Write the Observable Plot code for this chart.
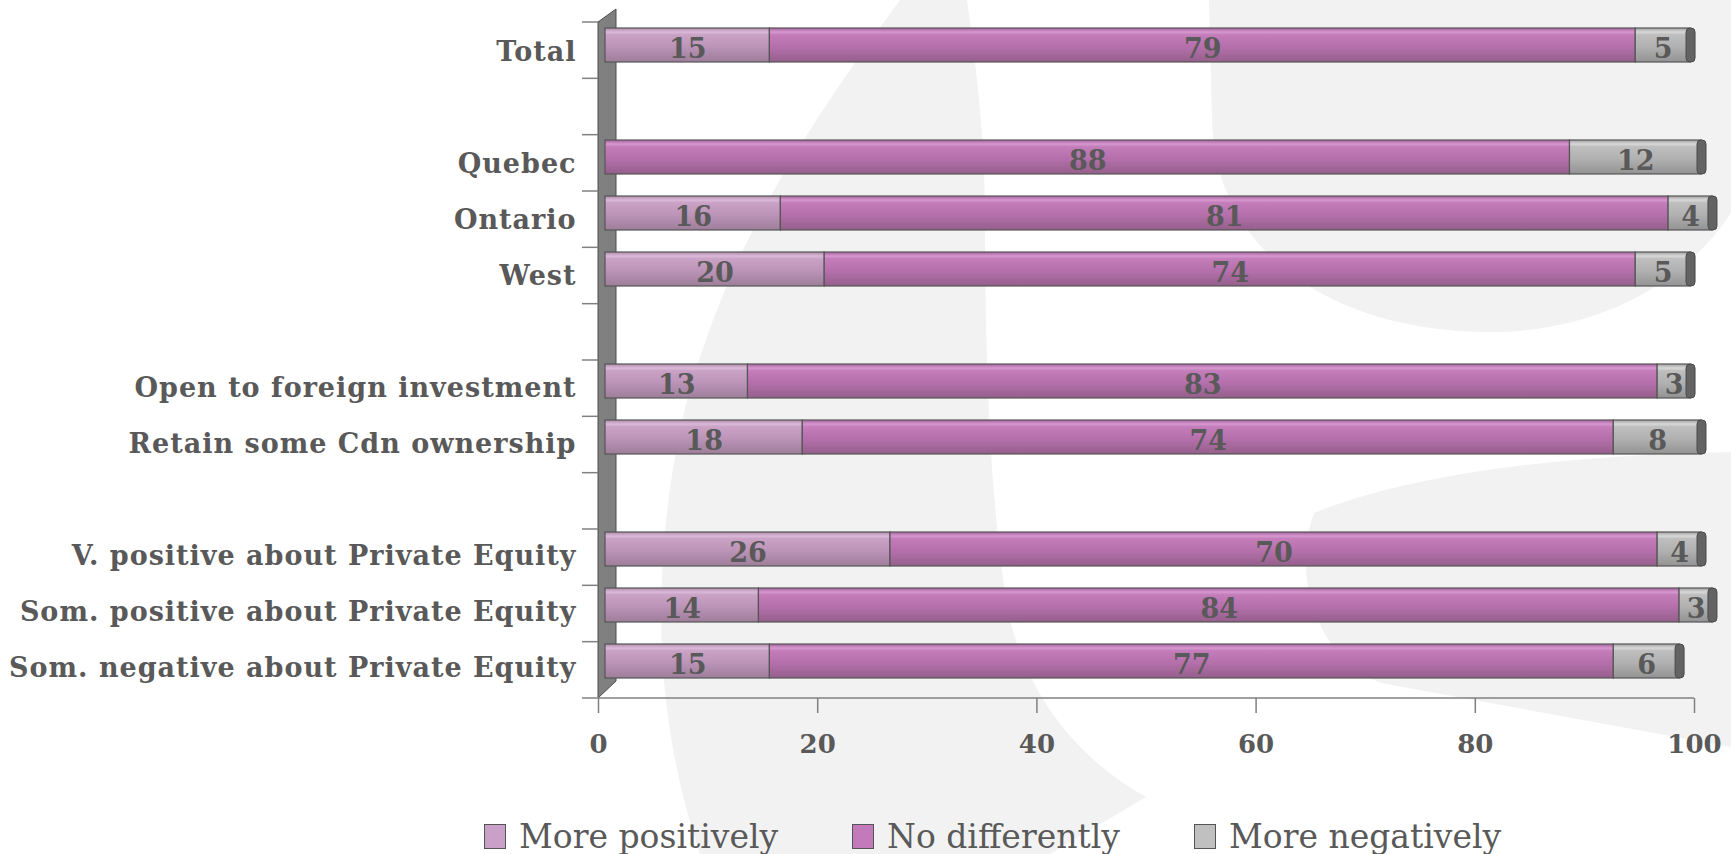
<!DOCTYPE html>
<html>
<head>
<meta charset="utf-8">
<script src="https://cdn.jsdelivr.net/npm/d3@7"></script>
<script src="https://cdn.jsdelivr.net/npm/@observablehq/plot@0.6"></script>
<style>
html, body { margin: 0; padding: 0; background: #ffffff; }
#wrap { position: relative; width: 1731px; height: 854px; overflow: hidden; }
#bg { position: absolute; left: 0; top: 0; }
#chart { position: absolute; left: 0; top: 0; }
#legend { position: absolute; left: 484px; top: 814px; height: 44px; display: flex; align-items: center;
  font-family: "DejaVu Serif", serif; font-size: 33px; color: #595959; }
.item { display: flex; align-items: center; }
.sw { width: 22px; height: 25px; border: 1px solid #555; box-sizing: border-box; margin-right: 13px; }
</style>
</head>
<body>
<div id="wrap">
  <svg id="bg" width="1731" height="854">
    <g fill="#f2f2f2">
      <path d="M 900 0 C 820 110, 720 250, 680 430 C 650 580, 655 720, 700 854 L 1050 854 L 1146 797 C 1080 760, 1030 700, 1010 620 C 990 520, 985 350, 985 220 C 985 130, 975 60, 967 0 Z"/>
      <path d="M 1209 0 L 1731 0 L 1731 213 C 1680 290, 1590 332, 1490 332 C 1330 332, 1215 250, 1212 120 Z"/>
      <path d="M 1314 513 C 1420 470, 1580 455, 1731 452 L 1731 747 L 1381 683 C 1320 660, 1290 580, 1314 513 Z"/>
    </g>
  </svg>
  <div id="chart"></div>
  <div id="legend"></div>
</div>
<script>
// ---- data ----
const rowOrder = ["Total", "", "Quebec", "Ontario", "West", "", "Open to foreign investment", "Retain some Cdn ownership", "", "V. positive about Private Equity", "Som. positive about Private Equity", "Som. negative about Private Equity"];
const categories = ["Total", "Quebec", "Ontario", "West", "Open to foreign investment", "Retain some Cdn ownership", "V. positive about Private Equity", "Som. positive about Private Equity", "Som. negative about Private Equity"];
const series = ["More positively", "No differently", "More negatively"];
const morePositively = [15, 0, 16, 20, 13, 18, 26, 14, 15];
const noDifferently = [79, 88, 81, 74, 83, 74, 70, 84, 77];
const moreNegatively = [5, 12, 4, 5, 3, 8, 4, 3, 6];
const xTicks = [0, 20, 40, 60, 80, 100];

// ---- styles ----
const gradStops = [
  [[0, "#b08aac"], [0.12, "#dbb9d8"], [0.2, "#c9a2c6"], [0.55, "#bb94b8"], [1, "#9d7e99"]],
  [[0, "#a9619f"], [0.12, "#d698cf"], [0.2, "#c37dba"], [0.55, "#b570ac"], [1, "#945f8a"]],
  [[0, "#a3a3a3"], [0.12, "#d8d8d8"], [0.2, "#bebebe"], [0.55, "#b1b1b1"], [1, "#939393"]]
];
const swatchColors = ["#c9a0c8", "#c27abb", "#c0c0c0"];
const gradIds = ["gPos", "gNd", "gNeg"];
const textColor = "#595959";

// ---- build table ----
let gapCount = 0;
const yDomain = rowOrder.map(r => r === "" ? " ".repeat(++gapCount) : r);
const valuesBySeries = [morePositively, noDifferently, moreNegatively];
const table = [];
categories.forEach((c, i) => {
  series.forEach((s, j) => table.push({category: c, series: s, value: valuesBySeries[j][i]}));
});
const totals = categories.map((c, i) => ({category: c, total: morePositively[i] + noDifferently[i] + moreNegatively[i]}));

const H = 800, MT = 22, MB = 102, ML = 598, MR = 37;

function defsMark() {
  const defs = d3.create("svg:defs");
  gradIds.forEach((id, k) => {
    const lg = defs.append("linearGradient").attr("id", id).attr("x1", 0).attr("y1", 0).attr("x2", 0).attr("y2", 1);
    gradStops[k].forEach(([o, c]) => lg.append("stop").attr("offset", o).attr("stop-color", c));
  });
  return defs.node();
}

function wallMark(index, scales, values, dims) {
  const g = d3.create("svg:g");
  const x0 = scales.x(0);
  const x100 = scales.x(100);
  const top = dims.marginTop, bottom = dims.height - dims.marginBottom;
  const step = (bottom - top) / yDomain.length;
  g.append("polygon")
    .attr("points", `${x0},${top} ${x0 + 18},${top - 13} ${x0 + 18},${bottom - 17} ${x0},${bottom}`)
    .attr("fill", "#808080").attr("stroke", "#4d4d4d").attr("stroke-width", 1);
  for (let k = 0; k < yDomain.length; k++) {
    const yy = top + k * step;
    g.append("line").attr("x1", x0 - 16).attr("x2", x0).attr("y1", yy).attr("y2", yy)
      .attr("stroke", "#808080").attr("stroke-width", 1.5);
  }
  g.append("line").attr("x1", x0 - 16).attr("x2", x100).attr("y1", bottom).attr("y2", bottom)
    .attr("stroke", "#808080").attr("stroke-width", 1.5);
  return g.node();
}

const plot = Plot.plot({
  width: 1731,
  height: H,
  marginTop: MT,
  marginBottom: MB,
  marginLeft: ML,
  marginRight: MR,
  x: {domain: [0, 100], axis: null, label: null},
  y: {domain: yDomain, paddingInner: 0.4, paddingOuter: 0.2, axis: null, label: null},
  color: {type: "ordinal", domain: series, range: gradIds.map(id => `url(#${id})`)},
  style: {fontFamily: "DejaVu Serif, serif", fontWeight: "bold", fontSize: "26px", color: textColor, background: "transparent", overflow: "visible"},
  marks: [
    defsMark,
    wallMark,
    Plot.axisY({anchor: "left", label: null, tickSize: 0, tickPadding: 22, fontSize: 27, color: textColor,
      tickFormat: d => d.trim() === "" ? "" : d}),
    Plot.axisX({anchor: "bottom", label: null, ticks: xTicks, tickSize: 15, tickPadding: 21, fontSize: 26,
      color: textColor, stroke: "#808080", strokeWidth: 1.5}),
    Plot.barX(table, Plot.stackX({x: "value", y: "category", fill: "series", order: series,
      dx: 7, dy: -7, stroke: "#555555", strokeWidth: 1.2})),
    Plot.barX(totals, {x1: "total", x2: "total", y: "category", insetLeft: -4, insetRight: -5, rx: 4,
      fill: "#636363", stroke: "#4a4a4a", strokeWidth: 1, dx: 7, dy: -7}),
    Plot.text(table.filter(d => d.value > 0), Plot.stackX({x: "value", y: "category", z: "series", order: series,
      text: d => String(d.value), dx: 7, dy: -3, fontSize: 27, fontWeight: "bold", fill: textColor}))
  ]
});

d3.select(plot).selectAll('g[aria-label="y-axis tick label"] text').style("letter-spacing", "1px");
document.getElementById("chart").appendChild(plot);

// ---- legend ----
const legend = d3.select("#legend");
const itemWidths = [368, 342, null];
series.forEach((s, k) => {
  const it = legend.append("div").attr("class", "item");
  if (itemWidths[k]) it.style("width", itemWidths[k] + "px");
  it.append("div").attr("class", "sw").style("background", swatchColors[k]);
  it.append("span").text(s);
});
</script>
</body>
</html>
